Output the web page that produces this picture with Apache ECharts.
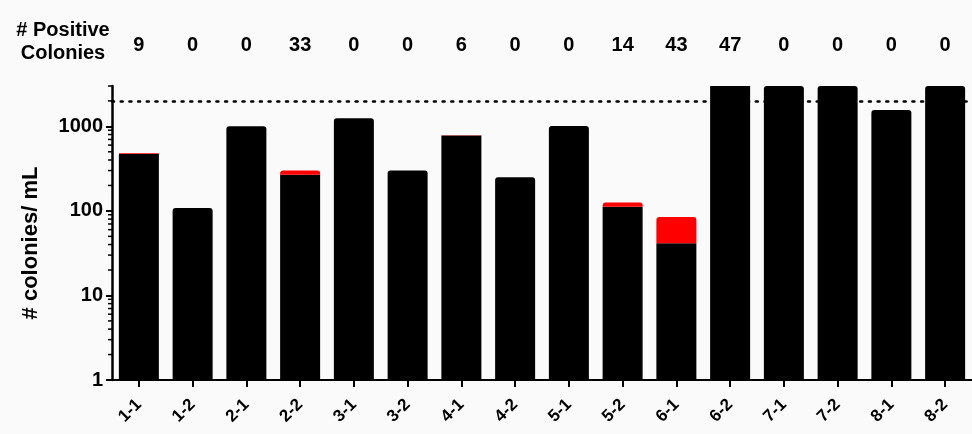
<!DOCTYPE html>
<html>
<head>
<meta charset="utf-8">
<script src="https://cdn.jsdelivr.net/npm/echarts@6/dist/echarts.min.js"></script>
<style>
  html, body { margin: 0; padding: 0; background: #fafafa; }
  #chart { width: 972px; height: 434px; }
</style>
</head>
<body>
<div id="chart"></div>
<script>
// Samples along the x axis
const categories = ['1-1', '1-2', '2-1', '2-2', '3-1', '3-2', '4-1', '4-2',
                    '5-1', '5-2', '6-1', '6-2', '7-1', '7-2', '8-1', '8-2'];
// Number of positive colonies per sample (header row and red caps)
const positives = [9, 0, 0, 33, 0, 0, 6, 0, 0, 14, 43, 47, 0, 0, 0, 0];
// Colonies per mL (black bars); samples above the axis range run off the top
const colonies = [470, 108, 1000, 267, 1250, 300, 780, 250,
                  1010, 112, 41.5, 4000, 4000, 4000, 1560, 4000];
// Reference level drawn as a dotted line
const limitLevel = 2000;
// Axis ticks
const majorTicks = [1, 10, 100, 1000];
const minorTicks = [2, 3, 4, 5, 6, 7, 8, 9,
                    20, 30, 40, 50, 60, 70, 80, 90,
                    200, 300, 400, 500, 600, 700, 800, 900,
                    2000, 3000];

const font = 'Liberation Sans, Arial, Helvetica, sans-serif';
const chart = echarts.init(document.getElementById('chart'), null, { renderer: 'canvas' });

// Black bars: square top where a red cap sits on them
const blackData = colonies.map((v, i) => ({
  value: v,
  itemStyle: { borderRadius: positives[i] > 0 ? 0 : [3, 3, 0, 0] }
}));
const capData = positives.map(p => p > 0 ? p : '-');

chart.setOption({
  backgroundColor: '#fafafa',
  animation: false,
  grid: { left: 112, right: 0, top: 86, bottom: 54 },
  graphic: [{
    type: 'text',
    x: 63, y: 19,
    style: {
      text: '# Positive\nColonies',
      align: 'center', verticalAlign: 'top',
      font: 'bold 20px ' + font, lineHeight: 23, fill: '#000'
    }
  }],
  xAxis: [{
    type: 'category',
    data: categories,
    axisLine: { show: true, lineStyle: { color: '#000', width: 2 } },
    axisTick: { show: true, alignWithLabel: true, length: 7, lineStyle: { color: '#000', width: 2 } },
    axisLabel: {
      rotate: 45, margin: 22, color: '#000',
      fontFamily: font, fontWeight: 'bold', fontSize: 17, interval: 0
    }
  }, {
    type: 'category',
    data: categories,
    position: 'top',
    axisLine: { show: false },
    axisTick: { show: false },
    axisLabel: {
      margin: 31, color: '#000', interval: 0,
      fontFamily: font, fontWeight: 'bold', fontSize: 20,
      formatter: (v, i) => String(positives[i])
    }
  }],
  yAxis: {
    type: 'log', logBase: 10, min: 1, max: 3000,
    position: 'left',
    name: '# colonies/ mL',
    nameLocation: 'middle', nameGap: 70, nameRotate: 90,
    nameTextStyle: { color: '#000', fontFamily: font, fontWeight: 'bold', fontSize: 22, padding: [0, 20, 0, 0] },
    axisLine: { show: true, lineStyle: { color: '#000', width: 2.5 } },
    axisTick: { show: true, length: 6, customValues: majorTicks, lineStyle: { color: '#000', width: 2 } },
    axisLabel: {
      color: '#000', margin: 9, fontFamily: font, fontWeight: 'bold', fontSize: 20,
      customValues: majorTicks, formatter: v => String(Math.round(v))
    },
    splitLine: { show: false }
  },
  series: [{
    name: 'Colonies',
    type: 'bar',
    stack: 'total',
    data: blackData,
    barWidth: 40,
    itemStyle: { color: '#000' },
    markLine: {
      silent: true,
      symbol: 'none',
      label: { show: false },
      lineStyle: { color: '#000', type: [2, 6.7], width: 2.5, cap: 'round' },
      data: [{ yAxis: limitLevel }]
    }
  }, {
    name: 'Positive',
    type: 'bar',
    stack: 'total',
    data: capData,
    barWidth: 40,
    itemStyle: { color: '#ff0000', borderRadius: [3, 3, 0, 0] }
  }, {
    // Minor log ticks on the left of the y axis
    name: 'minorTicks',
    type: 'custom',
    silent: true,
    z: 10,
    data: minorTicks.map(v => [0, v]),
    renderItem: (params, api) => {
      const y = api.coord([0, api.value(1)])[1];
      const x = params.coordSys.x;
      return {
        type: 'line',
        shape: { x1: x - 4, y1: y, x2: x, y2: y },
        style: { stroke: '#000', lineWidth: 1.5 }
      };
    }
  }]
});
</script>
</body>
</html>
